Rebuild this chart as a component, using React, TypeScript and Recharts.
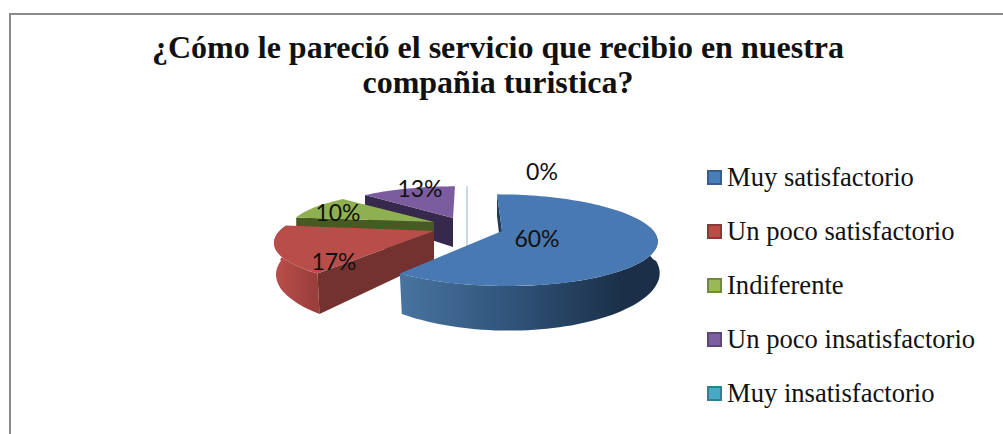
import React from "react";
import { PieChart, Pie, Legend } from "recharts";

const categories = ["Muy satisfactorio", "Un poco satisfactorio", "Indiferente", "Un poco insatisfactorio", "Muy insatisfactorio"];
const values = [60, 17, 10, 13, 0];
const legendColors = ["#4a7ebb", "#be4b48", "#98b954", "#7d5fa0", "#46aac4"];
const legendBorders = ["#385d8a", "#8c3836", "#71893f", "#5c4776", "#357d91"];
const topColors = ["#4879b3", "#b84d4a", "#8fb050", "#7b5d9f", "#c6dce4"];
const wallColors = ["#203a57", "#73312f", "#465a22", "#37284d", "#c6dce4"];
const sideFrom = ["#48749f", "#bb4f4b", "#8fb050", "#7b5d9f", "#c6dce4"];
const sideMid = ["#2f5278", "#ab4744", "#8fb050", "#7b5d9f", "#c6dce4"];
const sideTo = ["#1b3048", "#9c3f3c", "#8fb050", "#7b5d9f", "#c6dce4"];
const title = ["¿Cómo le pareció el servicio que recibio en nuestra", "compañia turistica?"];

// explode offset of each slice from the pie centre, radius scale, vertical scale, lean
const offX = [0, -68, -68, -49, -35];
const offY = [0, 0, -9, -13, -13];
const radiusScale = [1, 1.02, 0.94, 0.92, 0.9];
const flatScale = [44, 44, 38, 38, 38];
const lean = [-5, 10, 0, 2, 0];
const labelX = [537, 334, 338, 420, 542];
const labelY = [238, 261, 212, 188, 171];

const rows = categories
  .map((name, i) => ({ name, value: values[i], order: i }))
  .reverse();

const K = 0.2;
const DEPTH = 29;

function depthAt(v: number) {
  return DEPTH / (1 + 0.35 * v);
}

function Slice(props: any) {
  const { cx, cy, outerRadius, startAngle, endAngle } = props;
  const i: number = props.payload?.order ?? props.order;
  const a = outerRadius * radiusScale[i];
  const b = flatScale[i];
  const ax = cx + offX[i];
  const ay = cy + offY[i];
  // clockwise angle from top, normalised to start in 0..360
  let t0 = 90 - Math.max(startAngle, endAngle);
  let t1 = 90 - Math.min(startAngle, endAngle);
  while (t0 < 0) {
    t0 += 360;
    t1 += 360;
  }
  const project = (deg: number) => {
    const r = (deg * Math.PI) / 180;
    const u = Math.sin(r);
    const v = Math.cos(r);
    const s = 1 / (1 + K * v);
    return { x: ax + a * u * s + lean[i] * v, y: ay - b * v * s, v };
  };
  const sample = (from: number, to: number) => {
    const pts = [];
    const n = Math.max(1, Math.ceil(Math.abs(to - from) / 2));
    for (let j = 0; j <= n; j++) pts.push(project(from + ((to - from) * j) / n));
    return pts;
  };
  const poly = (pts: { x: number; y: number }[]) =>
    pts.map((p, j) => `${j ? "L" : "M"}${p.x.toFixed(1)},${p.y.toFixed(1)}`).join("") + "Z";
  const down = (p: any) => ({ x: p.x + (p.v < 0 ? 2 : 0), y: p.y + depthAt(p.v) });
  const zero = t1 - t0 < 0.01;
  const apex = { x: ax, y: ay, v: 0 };
  const first = project(t0);
  const wall = [first, apex, down(apex), down(first)];
  const top = [apex, ...sample(t0, t1)];
  const from = Math.max(t0, 85);
  const to = Math.min(t1, 275);
  const arc = to > from ? sample(from, to) : [];
  const side = arc.length ? [...arc, ...arc.map(down).reverse()] : [];
  const gid = `side-${i}`;
  const strokeProps = zero
    ? { stroke: topColors[i], strokeWidth: 2 }
    : { stroke: "none" };
  return (
    <g>
      <defs>
        <linearGradient id={gid} x1="0" y1="0" x2="1" y2="0">
          <stop offset="0" stopColor={sideFrom[i]} />
          <stop offset="0.45" stopColor={sideMid[i]} />
          <stop offset="0.85" stopColor={sideTo[i]} />
        </linearGradient>
      </defs>
      {side.length > 0 && <path d={poly(side)} fill={`url(#${gid})`} />}
      <path d={poly(wall)} fill={wallColors[i]} {...strokeProps} />
      <path d={poly(top)} fill={topColors[i]} {...strokeProps} />
    </g>
  );
}

function PercentLabel(props: any) {
  const i: number = props.payload?.order ?? props.order;
  return (
    <text
      x={labelX[i]}
      y={labelY[i]}
      textAnchor="middle"
      dominantBaseline="central"
      fontFamily="Lato"
      fontSize={23}
      fill="#111"
    >
      {`${Math.round(props.percent * 100)}%`}
    </text>
  );
}

function LegendBox() {
  return (
    <div style={{ fontFamily: "'Liberation Serif'", fontSize: 26.6, color: "#111" }}>
      {categories.map((name, i) => (
        <div
          key={name}
          style={{ display: "flex", alignItems: "center", height: 54, whiteSpace: "nowrap" }}
        >
          <span
            style={{
              display: "inline-block",
              boxSizing: "border-box",
              width: 15,
              height: 15,
              marginRight: 5,
              background: legendColors[i],
              border: `2px solid ${legendBorders[i]}`,
            }}
          />
          {name}
        </div>
      ))}
    </div>
  );
}

export default function App() {
  return (
    <div style={{ position: "fixed", left: 0, top: 0, width: 1003, height: 434, background: "#fff", overflow: "hidden" }}>
      <div style={{ position: "absolute", left: 9, top: 13, width: 994, height: 421, borderLeft: "2px solid #8a8a8a", borderTop: "2px solid #8a8a8a" }} />
      <div
        style={{
          position: "absolute",
          left: 0,
          top: 30,
          width: 996,
          textAlign: "center",
          fontFamily: "'Liberation Serif'",
          fontWeight: "bold",
          fontSize: 32,
          lineHeight: "35px",
          color: "#111",
        }}
      >
        {title.map((t) => (
          <div key={t}>{t}</div>
        ))}
      </div>
      <PieChart
        width={1003}
        height={434}
        margin={{ top: 0, right: 0, bottom: 0, left: 0 }}
        style={{ position: "absolute", left: 0, top: 0 }}
      >
        <Pie
          data={rows}
          dataKey="value"
          nameKey="name"
          cx={502}
          cy={231}
          outerRadius={151.5}
          startAngle={90}
          endAngle={450}
          paddingAngle={0}
          minAngle={0}
          stroke="none"
          shape={Slice}
          label={PercentLabel}
          labelLine={false}
          isAnimationActive={false}
        />
        <Legend
          content={<LegendBox />}
          layout="vertical"
          verticalAlign="top"
          align="right"
          wrapperStyle={{ position: "absolute", left: 707, top: 150, width: 296 }}
        />
      </PieChart>
    </div>
  );
}
